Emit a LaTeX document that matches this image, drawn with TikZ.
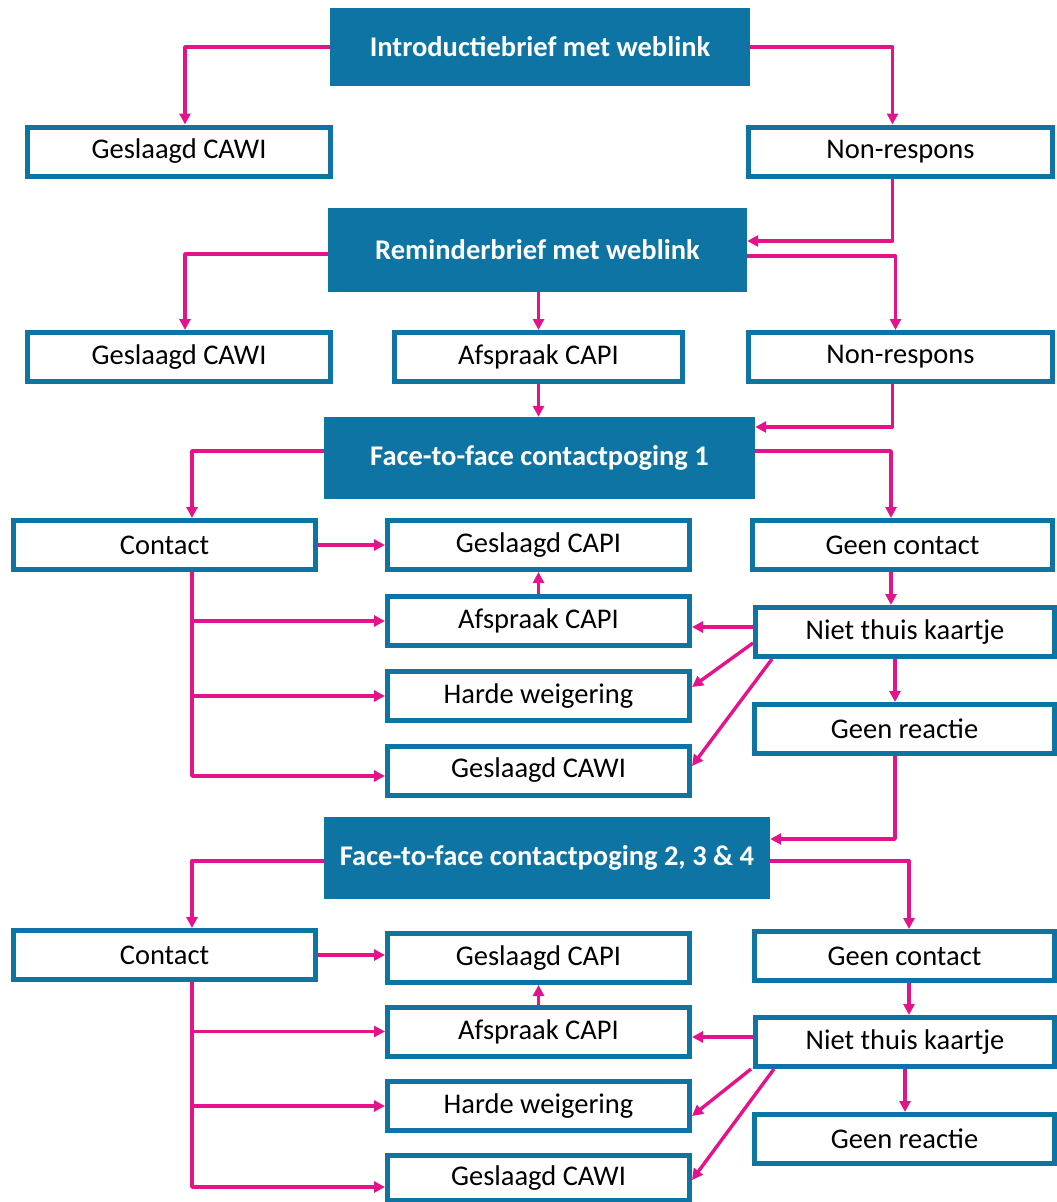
\documentclass[tikz,border=0pt]{standalone}
\usepackage{fontspec}
\setmainfont{Carlito}
\usepackage{xcolor}
\usetikzlibrary{arrows.meta,positioning,calc}
\definecolor{sbblue}{HTML}{0E74A4}
\definecolor{sbpink}{HTML}{E5138B}
\tikzset{head/.style={fill=sbblue,text=white,font=\fontsize{28.5}{32}\selectfont\bfseries,inner sep=0pt},
  box/.style={draw=sbblue,line width=5pt,fill=white,font=\fontsize{28.5}{32}\selectfont,inner sep=0pt,minimum height=49pt},
  pijl/.style={-{Triangle[length=11pt,width=11pt]},line width=3.4pt,draw=sbpink,line join=round}}

\begin{document}
\begin{tikzpicture}[x=1pt,y=-1pt]
  \useasboundingbox (0,0) rectangle (1057,1202);
  % letters and first replies
  \node[head,minimum width=420pt,minimum height=78pt] (intro) at (540,47) {Introductiebrief met weblink};
  \node[box,minimum width=303pt] (g1) at (179,151.5) {Geslaagd CAWI};
  \node[box,minimum width=304pt] (nr1) at (900.5,151.5) {Non-respons};
  \node[head,minimum width=419pt,minimum height=84pt] (rem) at (537.5,250) {Reminderbrief met weblink};
  \node[box,minimum width=303pt] (g2) at (179,357) {Geslaagd CAWI};
  \node[box,minimum width=288pt] (a2) at (538.5,357) {Afspraak CAPI};
  \node[box,minimum width=304pt] (nr2) at (900.5,357) {Non-respons};

  % contactpoging 1
  \node[head,minimum width=431pt,minimum height=82pt] (f1) at (539.5,458) {Face-to-face contactpoging 1};
  \node[box,minimum width=302pt] (c1) at (164.5,545) {Contact};
  \node[box,minimum width=302pt] (gcapi1) at (538.5,545) {Geslaagd CAPI};
  \node[box,minimum width=300pt] (geen1) at (902.5,545) {Geen contact};
  \node[box,minimum width=302pt] (afs1) at (538.5,621) {Afspraak CAPI};
  \node[box,minimum width=299pt] (niet1) at (905,632) {Niet thuis kaartje};
  \node[box,minimum width=302pt] (harde1) at (538.5,696) {Harde weigering};
  \node[box,minimum width=300pt] (reac1) at (904.5,729) {Geen reactie};
  \node[box,minimum width=302pt] (gcawi1) at (538.5,770.5) {Geslaagd CAWI};

  % contactpoging 2, 3 en 4
  \node[head,minimum width=446pt,minimum height=82pt] (f2) at (547,858) {Face-to-face contactpoging 2, 3 \& 4};
  \node[box,minimum width=302pt] (c2) at (164.5,955) {Contact};
  \node[box,minimum width=302pt] (gcapi2) at (538.5,958) {Geslaagd CAPI};
  \node[box,minimum width=300pt] (geen2) at (904.5,956) {Geen contact};
  \node[box,minimum width=302pt] (afs2) at (538.5,1031.5) {Afspraak CAPI};
  \node[box,minimum width=299pt] (niet2) at (905,1042) {Niet thuis kaartje};
  \node[box,minimum width=302pt] (harde2) at (538.5,1106) {Harde weigering};
  \node[box,minimum width=300pt] (reac2) at (904.5,1139) {Geen reactie};
  \node[box,minimum width=302pt,minimum height=45pt] (gcawi2) at (538.5,1178) {Geslaagd CAWI};

  % arrows top part
  \draw[pijl] (intro.west) -| ([xshift=6pt]g1.north);
  \draw[pijl] (intro.east) -| ([xshift=-8pt]nr1.north);
  \draw[pijl] ([xshift=-8pt]nr1.south) |- ([yshift=9pt]rem.east);
  \draw[pijl] ([yshift=-4pt]rem.west) -| ([xshift=6pt]g2.north);
  \draw[pijl] ([yshift=-6pt]rem.east) -| ([xshift=-5pt]nr2.north);
  \draw[pijl] ([xshift=1pt]rem.south) -- (a2.north);
  \draw[pijl] (a2.south) -- (a2.south |- f1.north);
  \draw[pijl] ([xshift=-8pt]nr2.south) |- ([yshift=31pt]f1.east);

  % arrows contactpoging 1
  \draw[pijl] ([yshift=7pt]f1.west) -| ([xshift=27.5pt]c1.north);
  \draw[pijl] ([yshift=7pt]f1.east) -| ([xshift=-11.5pt]geen1.north);
  \draw[pijl] (c1.east) -- (gcapi1.west);
  \coordinate (t1) at ([xshift=27.5pt]c1.south);
  \draw[pijl] (t1) |- ([yshift=-5.5pt]gcawi1.west);
  \draw[pijl] (t1 |- afs1.west) -- (afs1.west);
  \draw[pijl] (t1 |- harde1.west) -- (harde1.west);
  \draw[pijl] (afs1.north) -- (gcapi1.south);
  \draw[pijl] ([yshift=5pt]niet1.west) -- ([yshift=-6pt]afs1.east);
  \draw[pijl] ([yshift=-11pt]niet1.west) -- ([yshift=9pt]harde1.east);
  \draw[pijl] ([xshift=-133pt]niet1.south) -- ([yshift=4.5pt]gcawi1.east);
  \draw[pijl] ([xshift=-11.5pt]geen1.south) -- ([xshift=-14pt]niet1.north);
  \draw[pijl] ([xshift=-10pt]niet1.south) -- ([xshift=-9.5pt]reac1.north);
  \draw[pijl] ([xshift=-9.5pt]reac1.south) |- ([yshift=19pt]f2.east);

  % arrows contactpoging 2, 3 en 4
  \draw[pijl] ([yshift=-3pt]f2.west) -| ([xshift=27.5pt]c2.north);
  \draw[pijl] ([yshift=-3pt]f2.east) -| ([xshift=4.5pt]geen2.north);
  \draw[pijl] (c2.east) -- (c2.east -| gcapi2.west);
  \coordinate (t2) at ([xshift=27.5pt]c2.south);
  \draw[pijl] (t2) |- ([yshift=-9pt]gcawi2.west);
  \draw[pijl] (t2 |- afs2.west) -- (afs2.west);
  \draw[pijl] (t2 |- harde2.west) -- (harde2.west);
  \draw[pijl] (afs2.north) -- (afs2.north |- gcapi2.south);
  \draw[pijl] ([yshift=5pt]niet2.west) -- ([yshift=-5.5pt]afs2.east);
  \draw[pijl] ([xshift=-2pt]niet2.south west) -- ([yshift=-10pt]harde2.east);
  \draw[pijl] ([xshift=-131pt]niet2.south) -- ([yshift=-2pt]gcawi2.east);
  \draw[pijl] ([xshift=4.5pt]geen2.south) -- ([xshift=4pt]niet2.north);
  \draw[pijl] (niet2.south) -- (niet2.south |- reac2.north);
\end{tikzpicture}
\end{document}
